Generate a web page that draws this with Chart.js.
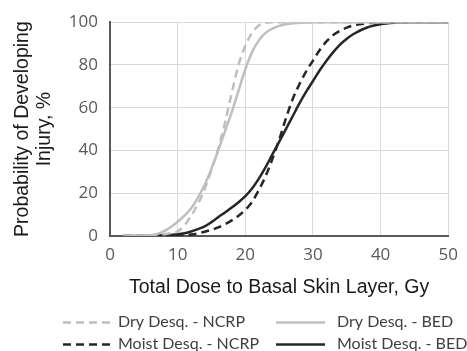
<!DOCTYPE html>
<html>
<head>
<meta charset="utf-8">
<script src="https://cdn.jsdelivr.net/npm/chart.js@4"></script>
<style>
  html, body { margin: 0; padding: 0; background: #ffffff; }
  #wrap { width: 467px; height: 351px; position: relative; }
</style>
</head>
<body>
<div id="wrap"><canvas id="c" width="467" height="351"></canvas></div>
<script>
// ---- data ----
const doses = [2,4,6,7,8,9,10,11,12,13,14,15,16,17,18,19,20,21,22,23,24,25,26,27,28,29,30,31,32,33,34,35,36,38,40,42,44,46,48,50];

const dryNCRP = [0,0,0,0.3,0.8,1.3,2.2,5,9.5,15,22,31,41,53,67,80,89,95,98.5,99.7,100,100,100,100,100,100,100,100,100,100,100,100,100,100,100,100,100,100,100,100];
const dryBED = [0,0,0.3,1,2.3,4.2,6.7,9.5,13,18,24,31.5,40,49,58,68,78,86,91.5,95,97,98.3,99,99.5,99.7,99.9,100,100,100,100,100,100,100,100,100,100,100,100,100,100];
const moistNCRP = [0,0,0,0,0,0.1,0.2,0.4,0.7,1.2,2,2.9,4,5.5,7.3,9.5,12.2,16,21.5,28,36,45,55,64,71,77,82,87,91,94,96,97.5,98.5,99.5,100,100,100,100,100,100];
const moistBED = [0,0,0.1,0.2,0.3,0.5,0.8,1.3,2.1,3.2,4.5,6.5,8.8,11,13.3,15.8,18.6,22.2,26.8,32.2,38.2,44,50,56,62,67.5,72.5,77.5,82,86,89.5,92.3,94.5,97.5,99,99.7,100,100,100,100];

const seriesLabels = ['Dry Desq. - NCRP', 'Dry Desq. - BED', 'Moist Desq. - NCRP', 'Moist Desq. - BED'];
const xTicks = [0,10,20,30,40,50];
const yTicks = [0,20,40,60,80,100];

const GRAY = '#bfbfbf';
const DARK = '#262626';

function pts(arr) { return doses.map((d, i) => ({x: d, y: arr[i]})); }

const legendPlugin = {
  id: 'gridLegend',
  afterDraw(chart) {
    const ctx = chart.ctx;
    const cols = [{lx: 63, tx: 118}, {lx: 276, tx: 337}];
    const rows = [322, 344];
    ctx.save();
    chart.data.datasets.forEach((ds, i) => {
      const c = cols[i % 2];
      const y = rows[Math.floor(i / 2)];
      ctx.beginPath();
      ctx.setLineDash(ds.borderDash || []);
      ctx.strokeStyle = ds.borderColor;
      ctx.lineWidth = ds.borderWidth;
      ctx.moveTo(c.lx, y + 0.5);
      ctx.lineTo(c.lx + 49, y + 0.5);
      ctx.stroke();
      ctx.setLineDash([]);
      ctx.fillStyle = '#404040';
      ctx.font = '16px Lato';
      ctx.textBaseline = 'middle';
      ctx.textAlign = 'left';
      ctx.fillText(ds.label, c.tx, y);
    });
    ctx.restore();
  }
};

new Chart(document.getElementById('c'), {
  type: 'line',
  data: {
    datasets: [
      {label: seriesLabels[0], data: pts(dryNCRP), borderColor: GRAY, borderWidth: 2.5, borderDash: [8, 5]},
      {label: seriesLabels[1], data: pts(dryBED), borderColor: GRAY, borderWidth: 2.5, borderDash: []},
      {label: seriesLabels[2], data: pts(moistNCRP), borderColor: DARK, borderWidth: 2.5, borderDash: [8, 5]},
      {label: seriesLabels[3], data: pts(moistBED), borderColor: DARK, borderWidth: 2.5, borderDash: []}
    ]
  },
  options: {
    responsive: false,
    animation: false,
    devicePixelRatio: 1,
    elements: {
      point: {radius: 0},
      line: {cubicInterpolationMode: 'monotone', fill: false}
    },
    layout: {padding: {left: 0, right: 14, top: 22, bottom: 0}},
    plugins: {legend: {display: false}, tooltip: {enabled: false}},
    scales: {
      x: {
        type: 'linear', min: 0, max: 50,
        afterBuildTicks: s => { s.ticks = xTicks.map(v => ({value: v})); },
        afterFit: s => { s.height = 115; },
        grid: {color: '#d9d9d9', lineWidth: 1, drawTicks: false},
        border: {color: '#595959', width: 2},
        ticks: {font: {family: 'Open Sans', size: 17}, color: '#595959', padding: 9, maxRotation: 0},
        title: {display: true, text: 'Total Dose to Basal Skin Layer, Gy',
                font: {family: 'Liberation Sans', size: 19.5}, color: '#1a1a1a',
                padding: {top: 0, bottom: 52}}
      },
      y: {
        type: 'linear', min: 0, max: 100,
        afterBuildTicks: s => { s.ticks = yTicks.map(v => ({value: v})); },
        afterFit: s => { s.width = 110; },
        grid: {color: '#d9d9d9', lineWidth: 1, drawTicks: false},
        border: {color: '#595959', width: 2},
        ticks: {font: {family: 'Open Sans', size: 17}, color: '#595959', padding: 12},
        title: {display: true, text: ['Probability of Developing', 'Injury, %'],
                font: {family: 'Liberation Sans', size: 19.5, lineHeight: 1.15}, color: '#1a1a1a',
                padding: {top: 11, bottom: 0}}
      }
    }
  },
  plugins: [legendPlugin]
});
</script>
</body>
</html>
